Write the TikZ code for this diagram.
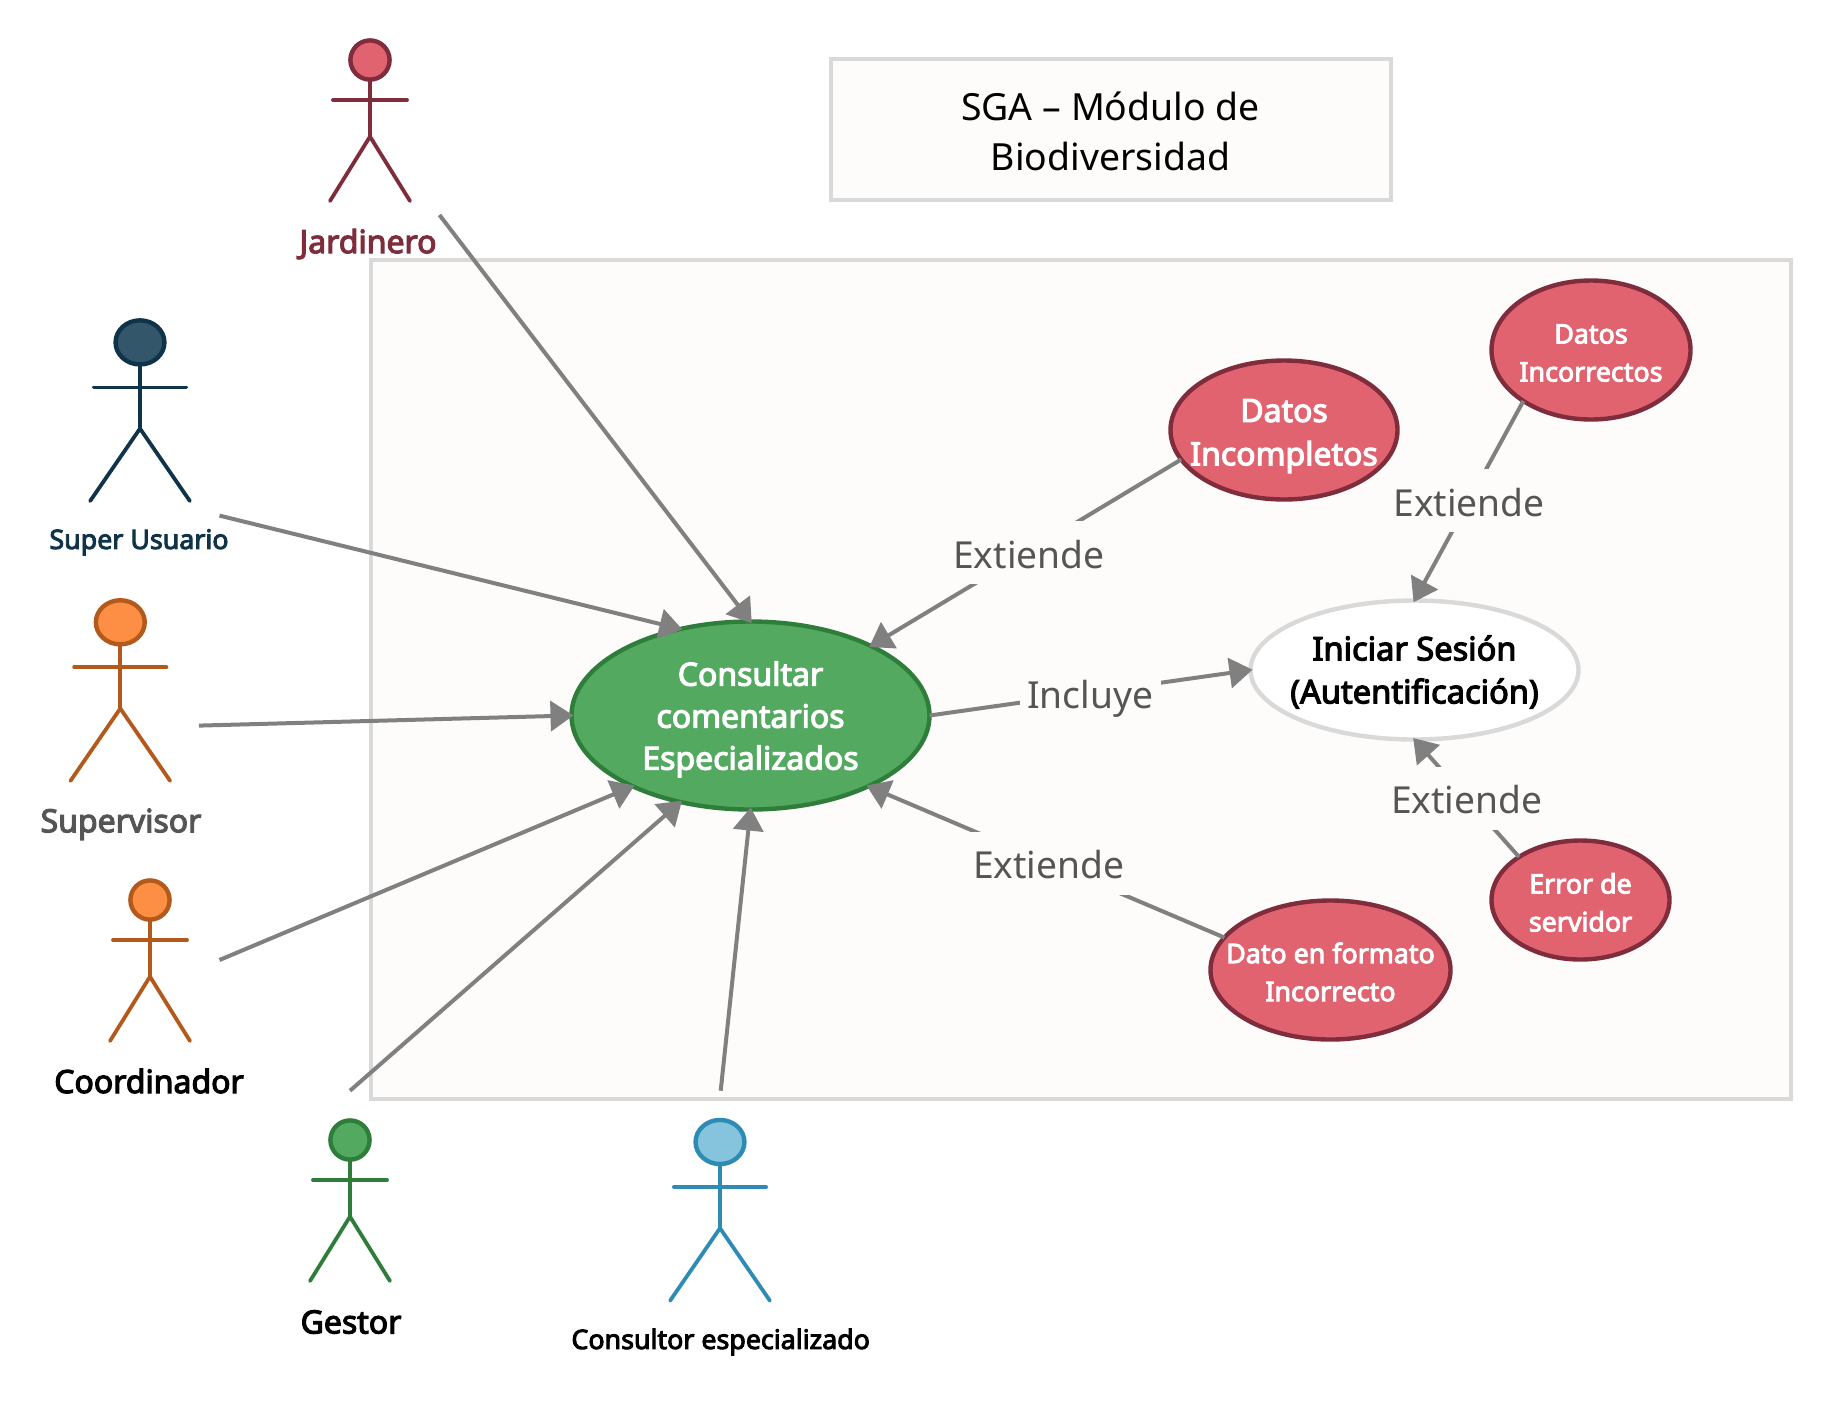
\documentclass[tikz,border=0pt]{standalone}
\usepackage{fontspec}
\usetikzlibrary{arrows.meta,shapes.geometric}
\setmainfont{Noto Sans}
\newfontfamily\semifont[FakeBold=3.5]{Noto Sans}

\definecolor{framefill}{HTML}{FDFCFA}
\definecolor{framedraw}{HTML}{D9D9D9}
\definecolor{edgegray}{HTML}{808080}
\definecolor{labelgray}{HTML}{555555}
\definecolor{redfill}{HTML}{E0636F}
\definecolor{reddraw}{HTML}{7F2D3C}
\definecolor{greenfill}{HTML}{52A95F}
\definecolor{greendraw}{HTML}{2F7D3B}
\definecolor{navyfill}{HTML}{33566A}
\definecolor{navydraw}{HTML}{0F3349}
\definecolor{orangefill}{HTML}{FD8F45}
\definecolor{orangedraw}{HTML}{B3591C}
\definecolor{bluefill}{HTML}{86C4DE}
\definecolor{bluedraw}{HTML}{2E8BB3}

\tikzset{
  usecase/.style={ellipse, line width=2.2pt, inner sep=-30pt, align=center, outer sep=0pt},
  redcase/.style={usecase, draw=reddraw, fill=redfill, text=white},
  edgeline/.style={->, draw=edgegray, line width=2pt, shorten >=-1pt},
  edgelabel/.style={fill=framefill, text=labelgray, inner sep=0pt, minimum height=31.5pt,
    font=\fontsize{18.6}{22}\selectfont, inner xsep=3.75pt, text height=15.4pt, text depth=0pt},
  actorlabel/.style={inner sep=0pt, font=\semifont\fontsize{16}{20}\selectfont},
}

% first line strut, moves the lines of a use case down a little
\newcommand{\lift}[1]{\rule{0pt}{#1}}

% name, x, y, x-scale, y-scale, line colour, head colour
\newcommand{\actorfig}[7]{
  \begin{scope}[shift={(#2,#3)}, xscale=#4, yscale=#5, draw=#6, line width=1.9pt, line cap=round]
    \draw[fill=#7, line width=2.2pt] (0,0) ellipse (19.6 and 19.6);
    \draw (0,19.6) -- (0,76.6);
    \draw (-37,40) -- (37,40);
    \draw (-40,141) -- (0,76.6) -- (40,141);
  \end{scope}
}

\begin{document}
\begin{tikzpicture}[x=0.5pt, y=-0.5pt, >={Triangle[length=11.5pt,width=15pt]}]

\useasboundingbox (0,0) rectangle (1831,1404);

% System frame and title
\draw[draw=framedraw, fill=framefill, line width=2pt] (371,260) rectangle (1791,1099);
\node[draw=framedraw, fill=framefill, line width=2pt, minimum width=280pt, minimum height=70.5pt,
  align=center, font=\fontsize{18.7}{25.3}\selectfont] (title) at (1110.5,129.5) {\lift{16pt}SGA -- Módulo de\\Biodiversidad};

% Actors
\actorfig{jardinero}{370}{60}{1}{1}{reddraw}{redfill}
\actorfig{superusuario}{140}{342.4}{1.247}{1.125}{navydraw}{navyfill}
\actorfig{supervisor}{120.3}{622.3}{1.247}{1.125}{orangedraw}{orangefill}
\actorfig{coordinador}{150}{900}{1}{1}{orangedraw}{orangefill}
\actorfig{gestor}{350}{1140}{1}{1}{greendraw}{greenfill}
\actorfig{consultor}{720}{1142}{1.247}{1.125}{bluedraw}{bluefill}

\node[actorlabel, text=reddraw] (jardinerotxt) at (368,244) {Jardinero};
\node[actorlabel, text=navydraw, font=\semifont\fontsize{13.4}{17}\selectfont] (superusuariotxt) at (139,542.3) {Super Usuario};
\node[actorlabel, text=labelgray] (supervisortxt) at (121,824.3) {Supervisor};
\node[actorlabel, text=black] (coordinadortxt) at (149,1081) {Coordinador};
\node[actorlabel, text=black] (gestortxt) at (351,1322) {Gestor};
\node[actorlabel, text=black, font=\semifont\fontsize{13.4}{17}\selectfont] (consultortxt) at (720.7,1342) {Consultor especializado};

% Free ends of the actor connectors
\coordinate (jardinero-out) at (439.5,215);
\coordinate (superusuario-out) at (219.5,515.6);
\coordinate (supervisor-out) at (199,725.6);
\coordinate (coordinador-out) at (219.5,960);
\coordinate (gestor-out) at (350,1090.7);
\coordinate (consultor-out) at (720.7,1090.7);

% Use cases
\node[usecase, draw=greendraw, fill=greenfill, text=white, minimum width=179pt, minimum height=94pt,
  text depth=0pt, font=\semifont\fontsize{16}{21}\selectfont] (consultar) at (750.5,715.5) {Consultar\\comentarios\\Especializados};
\node[usecase, draw=framedraw, fill=white, minimum width=164pt, minimum height=69.5pt,
  text depth=0.6pt, font=\semifont\fontsize{16.3}{21.5}\selectfont] (iniciar) at (1414.5,670) {Iniciar Sesión\\(Autentificación)};
\node[redcase, minimum width=113.5pt, minimum height=69.5pt,
  text depth=0pt, font=\semifont\fontsize{16}{21.7}\selectfont] (incompletos) at (1284,430) {\lift{13.6pt}Datos\\Incompletos};
\node[redcase, minimum width=99.5pt, minimum height=69.5pt,
  font=\semifont\fontsize{13.4}{19}\selectfont] (incorrectos) at (1591,350) {\lift{12.6pt}Datos\\Incorrectos};
\node[redcase, minimum width=89pt, minimum height=59.5pt,
  font=\semifont\fontsize{13.4}{19}\selectfont] (servidor) at (1580.5,900) {\lift{12.6pt}Error de\\servidor};
\node[redcase, minimum width=120pt, minimum height=69.5pt,
  font=\semifont\fontsize{13.4}{19}\selectfont] (formato) at (1330.5,970) {\lift{12.2pt}Dato en formato\\Incorrecto};

% Actors to the main use case
\draw[edgeline] (jardinero-out) -- (consultar.90);
\draw[edgeline] (superusuario-out) -- (consultar.129.5);
\draw[edgeline] (supervisor-out) -- (consultar.180);
\draw[edgeline] (coordinador-out) -- (consultar.211);
\draw[edgeline] (gestor-out) -- (consultar.231.2);
\draw[edgeline] (consultor-out) -- (consultar.270);

% Extiende and Incluye relations
\draw[edgeline] (incompletos.196.9) -- node[edgelabel, xshift=1.4pt] (extincompletos) {Extiende} (consultar.30.7);
\draw[edgeline] (formato.163.8) -- node[edgelabel, xshift=1.2pt, yshift=-0.7pt] (extformato) {Extiende} (consultar.329.3);
\draw[edgeline] (consultar.0) -- node[edgelabel] (incluye) {Incluye} (iniciar.180);
\draw[edgeline] (incorrectos.217) -- node[edgelabel] (extincorrectos) {Extiende} (iniciar.90);
\draw[edgeline] (servidor.145) -- node[edgelabel] (extservidor) {Extiende} (iniciar.270);

\end{tikzpicture}
\end{document}
